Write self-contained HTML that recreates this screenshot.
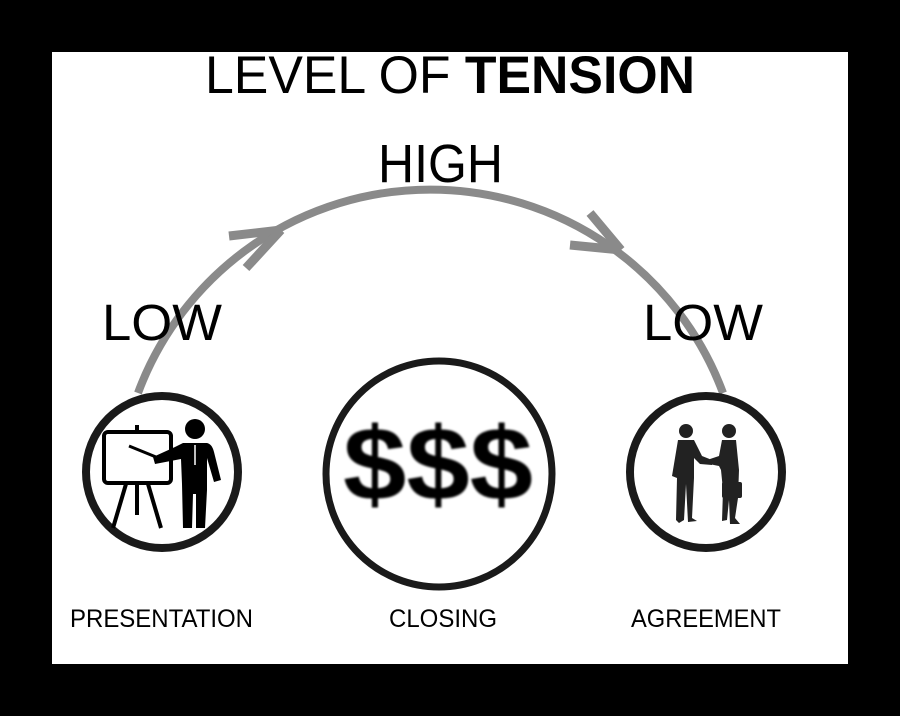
<!DOCTYPE html>
<html><head><meta charset="utf-8"><style>
html,body{margin:0;padding:0;background:#000;}
svg{display:block;}
text{font-family:"Liberation Sans",sans-serif;}
</style></head><body>
<svg width="900" height="716" viewBox="0 0 900 716" xmlns="http://www.w3.org/2000/svg">
<defs><filter id="bl"><feGaussianBlur stdDeviation="1.1"/></filter></defs>
<rect x="0" y="0" width="900" height="716" fill="#000"/>
<rect x="52" y="52" width="796" height="612" fill="#fff"/>
<text x="205" y="93" font-size="53" textLength="490" lengthAdjust="spacingAndGlyphs" fill="#000">LEVEL OF <tspan font-weight="bold">TENSION</tspan></text>
<text x="378" y="182" font-size="54" textLength="125" lengthAdjust="spacingAndGlyphs" fill="#000">HIGH</text>
<!-- arc -->
<path d="M138,393 A312,312 0 0 1 723,393" fill="none" stroke="#8a8a8a" stroke-width="8"/>
<g stroke="#8a8a8a" stroke-width="9" stroke-linecap="butt" fill="none">
<line x1="229" y1="236" x2="281" y2="230"/>
<line x1="246" y1="268" x2="281" y2="230"/>
<line x1="570" y1="245" x2="621" y2="250"/>
<line x1="590" y1="213" x2="621" y2="250"/>
</g>
<text x="102" y="340" font-size="51" textLength="120" lengthAdjust="spacingAndGlyphs" fill="#000">LOW</text>
<text x="643" y="340" font-size="51" textLength="120" lengthAdjust="spacingAndGlyphs" fill="#000">LOW</text>
<!-- circles -->
<circle cx="162" cy="472" r="76" fill="#fff" stroke="#1a1a1a" stroke-width="8"/>
<circle cx="439" cy="474" r="113" fill="#fff" stroke="#1a1a1a" stroke-width="7"/>
<circle cx="706" cy="472" r="76" fill="#fff" stroke="#1a1a1a" stroke-width="8"/>
<!-- presentation icon -->
<g stroke="#000" fill="none">
<rect x="104" y="432" width="67" height="51" rx="4" stroke-width="4"/>
<line x1="137" y1="425" x2="137" y2="432" stroke-width="4"/>
<line x1="126" y1="484" x2="113" y2="528" stroke-width="4"/>
<line x1="137" y1="484" x2="137" y2="515" stroke-width="4"/>
<line x1="148" y1="484" x2="161" y2="528" stroke-width="4"/>
<line x1="129" y1="446" x2="156" y2="457" stroke-width="3"/>
</g>
<g fill="#000">
<circle cx="195" cy="429" r="10"/>
<path d="M183,443 L207,443 Q212,444 214,452 L221,480 L214,482 L207,458 L207,490 L205,528 L196,528 L196,494 L193,494 L192,528 L183,528 L182,484 L181,459 L155,464 L153,457 L175,447 Z"/>
</g>
<line x1="195" y1="445" x2="195" y2="465" stroke="#fff" stroke-width="1.5"/>
<!-- $$$ -->
<text x="438" y="500" font-size="104" font-weight="bold" text-anchor="middle" textLength="190" lengthAdjust="spacingAndGlyphs" fill="#000" filter="url(#bl)">$$$</text>
<!-- handshake -->
<g fill="#222">
<circle cx="686" cy="431" r="7"/>
<path d="M678,440 L694,440 L702,456 L712,460 L712,465 L700,464 L694,458 L694,478 L692,518 L697,521 L688,522 L686,484 L684,520 L679,523 L676,520 L677,478 L672,476 Z"/>
<circle cx="729" cy="431" r="7"/>
<path d="M722,440 L736,440 L739,470 L738,498 L735,518 L740,524 L730,524 L729,500 L727,520 L722,521 L723,490 L721,470 L719,466 L709,464 L710,459 L719,456 Z"/>
<rect x="722" y="482" width="20" height="16" rx="2"/>
</g>
<!-- labels -->
<text x="70" y="627" font-size="25" textLength="183" lengthAdjust="spacingAndGlyphs" fill="#000">PRESENTATION</text>
<text x="389" y="627" font-size="25" textLength="108" lengthAdjust="spacingAndGlyphs" fill="#000">CLOSING</text>
<text x="631" y="627" font-size="25" textLength="150" lengthAdjust="spacingAndGlyphs" fill="#000">AGREEMENT</text>
</svg>
</body></html>
